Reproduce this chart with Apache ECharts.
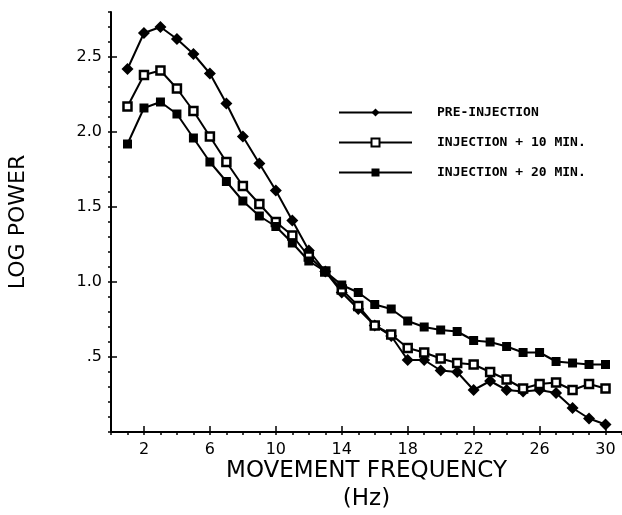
<!DOCTYPE html>
<html>
<head>
<meta charset="utf-8">
<script src="https://cdn.jsdelivr.net/npm/echarts@6/dist/echarts.min.js"></script>
<style>
  html, body { margin: 0; padding: 0; background: #fff; }
  #chart { width: 622px; height: 515px; }
</style>
</head>
<body>
<div id="chart"></div>
<script>
// movement frequency (Hz)
const freq = [1, 2, 3, 4, 5, 6, 7, 8, 9, 10, 11, 12, 13, 14, 15,
  16, 17, 18, 19, 20, 21, 22, 23, 24, 25, 26, 27, 28, 29, 30];

// log power
const preInjection = [2.42, 2.66, 2.70, 2.62, 2.52, 2.39, 2.19, 1.97, 1.79, 1.61, 1.41, 1.21, 1.07, 0.93, 0.82,
  0.71, 0.64, 0.48, 0.48, 0.41, 0.40, 0.28, 0.34, 0.28, 0.27, 0.28, 0.26, 0.16, 0.09, 0.05];
const injection10 = [2.17, 2.38, 2.41, 2.29, 2.14, 1.97, 1.80, 1.64, 1.52, 1.40, 1.31, 1.17, 1.07, 0.95, 0.84,
  0.71, 0.65, 0.56, 0.53, 0.49, 0.46, 0.45, 0.40, 0.35, 0.29, 0.32, 0.33, 0.28, 0.32, 0.29];
const injection20 = [1.92, 2.16, 2.20, 2.12, 1.96, 1.80, 1.67, 1.54, 1.44, 1.37, 1.26, 1.14, 1.07, 0.98, 0.93,
  0.85, 0.82, 0.74, 0.70, 0.68, 0.67, 0.61, 0.60, 0.57, 0.53, 0.53, 0.47, 0.46, 0.45, 0.45];

const seriesNames = ['PRE-INJECTION', 'INJECTION + 10 MIN.', 'INJECTION + 20 MIN.'];

// tick labels
const xTickLabels = [2, 6, 10, 14, 18, 22, 26, 30];
const yTickValues = [0.5, 1.0, 1.5, 2.0, 2.5];
const yTickLabels = ['.5', '1.0', '1.5', '2.0', '2.5'];

const font = 'DejaVu Sans';
const pairs = vals => freq.map((f, i) => [f, vals[i]]);

const chart = echarts.init(document.getElementById('chart'));

const lineSeries = (name, vals, symbol, size, fill) => ({
  name: name,
  type: 'line',
  xAxisIndex: 0,
  yAxisIndex: 0,
  data: pairs(vals),
  symbol: symbol,
  symbolSize: size,
  animation: false,
  lineStyle: { color: '#000', width: 2 },
  itemStyle: { color: fill, borderColor: '#000', borderWidth: fill === '#000' ? 0 : 2.5 }
});

chart.setOption({
  backgroundColor: '#fff',
  animation: false,
  grid: { left: 111, right: 0, top: 12, bottom: 83, containLabel: false, outerBoundsMode: 'none' },
  legend: {
    orient: 'vertical',
    left: 333,
    top: 101,
    itemWidth: 73,
    itemHeight: 10,
    itemGap: 17,
    data: seriesNames,
    textStyle: {
      fontFamily: 'DejaVu Sans Mono',
      fontWeight: 'bold',
      fontSize: 13,
      color: '#000',
      padding: [0, 0, 0, 20]
    }
  },
  xAxis: [{
    type: 'value',
    min: 0,
    max: 31,
    interval: 1,
    name: 'MOVEMENT FREQUENCY\n(Hz)',
    nameLocation: 'middle',
    nameGap: 25,
    nameMoveOverlap: false,
    nameTextStyle: { fontFamily: font, fontSize: 23, color: '#000', lineHeight: 28, verticalAlign: 'top' },
    axisLine: { lineStyle: { color: '#000', width: 2 } },
    axisTick: { show: true, length: 3, lineStyle: { color: '#000', width: 1.5 } },
    axisLabel: {
      customValues: xTickLabels,
      fontFamily: font,
      fontSize: 16,
      color: '#000',
      margin: 10
    },
    splitLine: { show: false }
  }, {
    type: 'value',
    min: 0,
    max: 31,
    position: 'bottom',
    axisLine: { show: false },
    axisTick: { show: true, inside: true, length: 6, customValues: xTickLabels, lineStyle: { color: '#000', width: 1.5 } },
    axisLabel: { show: false },
    splitLine: { show: false }
  }],
  yAxis: [{
    type: 'value',
    min: 0,
    max: 2.8,
    interval: 0.1,
    name: 'LOG POWER',
    nameLocation: 'middle',
    nameGap: 82,
    nameMoveOverlap: false,
    nameRotate: 90,
    nameTextStyle: { fontFamily: font, fontSize: 22, color: '#000' },
    axisLine: { lineStyle: { color: '#000', width: 2 } },
    axisTick: { show: true, length: 3, lineStyle: { color: '#000', width: 1.5 } },
    axisLabel: {
      customValues: yTickValues,
      formatter: v => yTickLabels[yTickValues.findIndex(t => Math.abs(t - v) < 1e-6)] || '',
      fontFamily: font,
      fontSize: 16,
      color: '#000',
      margin: 9
    },
    splitLine: { show: false }
  }, {
    type: 'value',
    min: 0,
    max: 2.8,
    position: 'left',
    axisLine: { show: false },
    axisTick: { show: true, inside: true, length: 6, customValues: yTickValues, lineStyle: { color: '#000', width: 1.5 } },
    axisLabel: { show: false },
    splitLine: { show: false }
  }],
  series: [
    lineSeries(seriesNames[0], preInjection, 'diamond', 12, '#000'),
    lineSeries(seriesNames[1], injection10, 'rect', 8, '#fff'),
    lineSeries(seriesNames[2], injection20, 'rect', 9, '#000')
  ]
});
</script>
</body>
</html>
